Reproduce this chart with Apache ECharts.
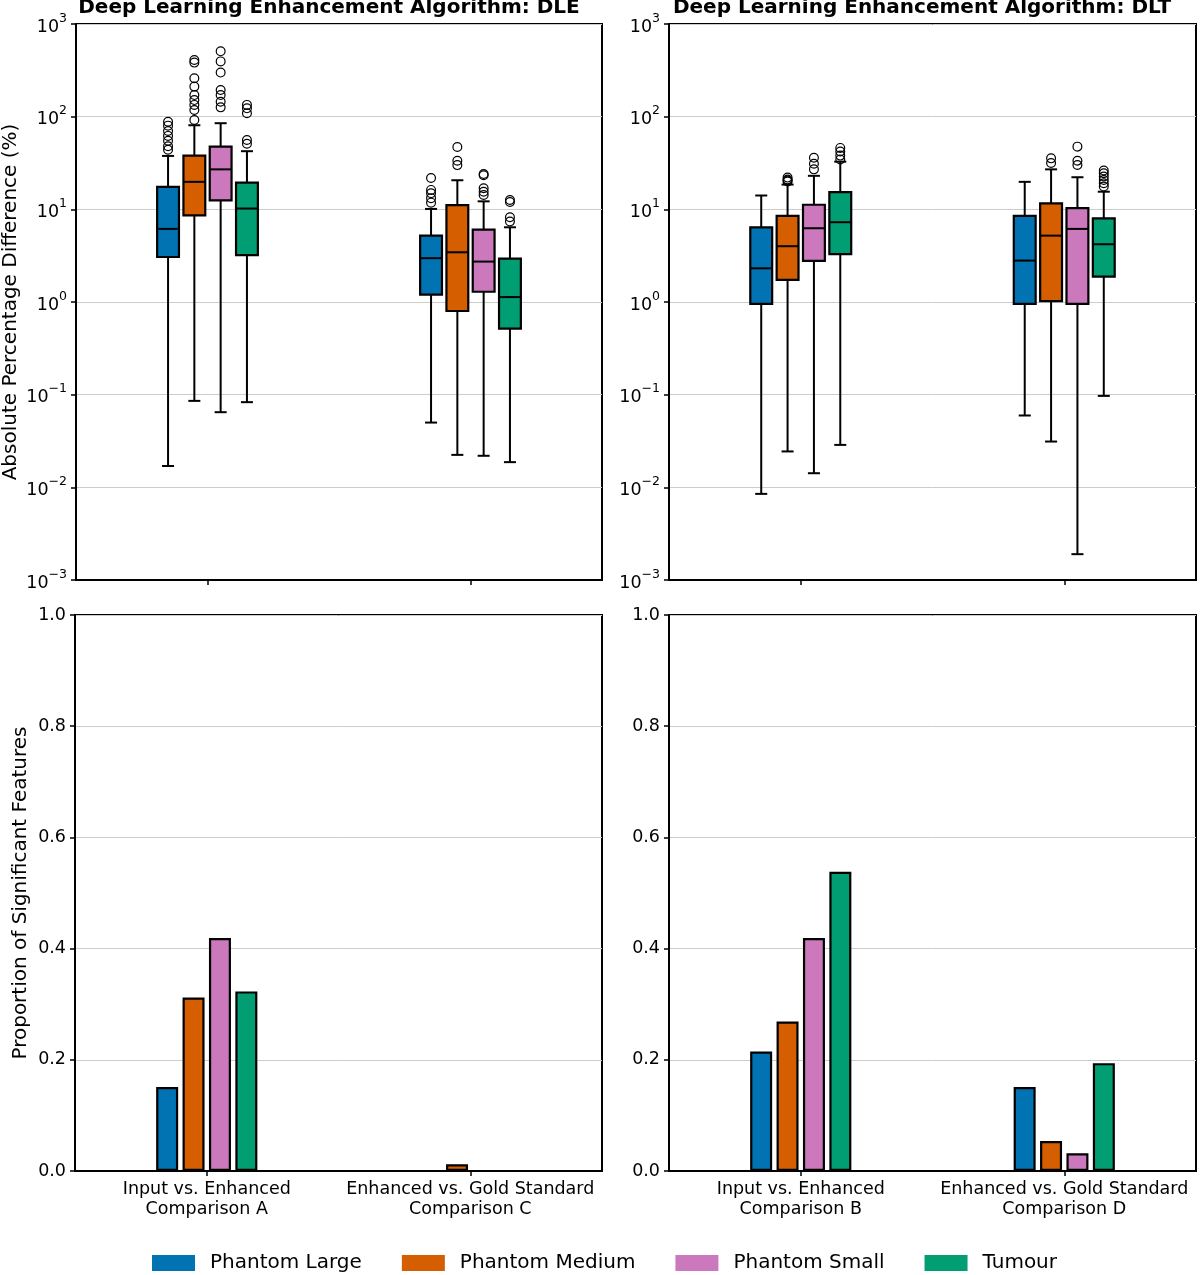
<!DOCTYPE html>
<html><head><meta charset="utf-8">
<script src="https://cdn.jsdelivr.net/npm/echarts@6/dist/echarts.min.js"></script>
<style>html,body{margin:0;padding:0;background:#fff}#c{width:1200px;height:1275px}</style>
</head><body><div id="c"></div>
<script>
// ---------------- DATA ----------------
const groupNames = ["Phantom Large", "Phantom Medium", "Phantom Small", "Tumour"];
const dleCategories = ["Input vs. Enhanced\nComparison A", "Enhanced vs. Gold Standard\nComparison C"];
const dltCategories = ["Input vs. Enhanced\nComparison B", "Enhanced vs. Gold Standard\nComparison D"];
const panelTitles = ["Deep Learning Enhancement Algorithm: DLE", "Deep Learning Enhancement Algorithm: DLT"];
const logTicks = [0.001, 0.01, 0.1, 1, 10, 100, 1000];

// box stats per group: [lower whisker, Q1, median, Q3, upper whisker]
const dleBoxA = [[0.017, 3.06, 6.15, 17.5, 37.7], [0.0857, 8.6, 19.8, 38, 80.8], [0.0647, 12.5, 27, 47.5, 85], [0.083, 3.2, 10.2, 19.4, 42.4]];
const dleBoxC = [[0.05, 1.2, 2.97, 5.2, 10.1], [0.0224, 0.80, 3.44, 11.1, 20.6], [0.0219, 1.29, 2.73, 6.04, 12.2], [0.0187, 0.516, 1.13, 2.94, 6.4]];
const dltBoxB = [[0.0085, 0.955, 2.31, 6.4, 14.1], [0.0244, 1.73, 4.0, 8.5, 18.5], [0.0142, 2.78, 6.25, 11.2, 23], [0.0287, 3.28, 7.26, 15.3, 32.7]];
const dltBoxD = [[0.0596, 0.955, 2.8, 8.5, 19.8], [0.0312, 1.02, 5.2, 11.6, 27], [0.0019, 0.955, 6.15, 10.3, 22.2], [0.097, 1.88, 4.2, 8.0, 15.5]];

// outliers per group
const dleOutA = [[88, 80, 70, 62, 55, 48, 44], [409, 383, 260, 211, 171, 151, 134, 118, 92], [507, 395, 299, 194, 171, 145, 126], [134, 123, 109, 56, 51]];
const dleOutC = [[21.8, 16.2, 14.9, 13.2, 11.8], [47, 33.5, 30], [24.1, 23.3, 16.9, 15.5, 14.3], [12.6, 12.0, 8.2, 7.4]];
const dltOutB = [[], [22, 21, 20.5, 20], [36, 31, 27], [46, 42, 38, 34.5]];
const dltOutD = [[], [35.5, 31.6], [47.5, 33.5, 30.1], [26.2, 24.5, 22.6, 20.7, 19.1, 17.6]];

// proportion of significant features per group: [first comparison, second comparison]
const dleProp = [[0.151, 0], [0.312, 0.012], [0.419, 0], [0.323, 0]];
const dltProp = [[0.215, 0.151], [0.269, 0.054], [0.419, 0.032], [0.538, 0.194]];
const propTicks = [0, 0.2, 0.4, 0.6, 0.8, 1.0];

// ---------------- STYLE ----------------
const colors = ["#0173b2", "#d55e00", "#cc78bc", "#029e73"];
const FONT = "DejaVu Sans";
const boxOffsets = [-0.15, -0.05, 0.05, 0.15]; // fraction of category band
const boxFrac = 0.083;

function supExp(v) {
  const e = Math.round(Math.log10(v));
  const s = e < 0 ? "\u2212" + (-e) : String(e);
  return "{b|10}{s|" + s + "}";
}

function boxRenderer(k) {
  return function (params, api) {
    const cat = api.value(0);
    const lo = api.value(1), q1 = api.value(2), med = api.value(3), q3 = api.value(4), hi = api.value(5);
    const band = Math.abs(api.coord([1, med])[0] - api.coord([0, med])[0]);
    const cx = api.coord([cat, med])[0] + boxOffsets[k] * band;
    const bw = band * boxFrac, cw = bw * 0.55;
    const yLo = api.coord([cat, lo])[1], yQ1 = api.coord([cat, q1])[1], yMed = api.coord([cat, med])[1];
    const yQ3 = api.coord([cat, q3])[1], yHi = api.coord([cat, hi])[1];
    const ls = { stroke: "#000", lineWidth: 2 };
    return {
      type: "group",
      children: [
        { type: "line", shape: { x1: cx, y1: yQ3, x2: cx, y2: yHi }, style: ls },
        { type: "line", shape: { x1: cx, y1: yQ1, x2: cx, y2: yLo }, style: ls },
        { type: "line", shape: { x1: cx - cw / 2, y1: yHi, x2: cx + cw / 2, y2: yHi }, style: ls },
        { type: "line", shape: { x1: cx - cw / 2, y1: yLo, x2: cx + cw / 2, y2: yLo }, style: ls },
        { type: "rect", shape: { x: cx - bw / 2, y: yQ3, width: bw, height: yQ1 - yQ3 }, style: { fill: colors[k], stroke: "#000", lineWidth: 2.2 } },
        { type: "line", shape: { x1: cx - bw / 2, y1: yMed, x2: cx + bw / 2, y2: yMed }, style: ls }
      ]
    };
  };
}
function outRenderer(k) {
  return function (params, api) {
    const cat = api.value(0), v = api.value(1);
    const band = Math.abs(api.coord([1, v])[0] - api.coord([0, v])[0]);
    const p = api.coord([cat, v]);
    return { type: "circle", shape: { cx: p[0] + boxOffsets[k] * band, cy: p[1], r: 4.4 }, style: { fill: "none", stroke: "#000", lineWidth: 1.2 } };
  };
}

const grids = [
  { left: 75, top: 24, width: 527, height: 556 },
  { left: 669, top: 24, width: 527, height: 556 },
  { left: 75, top: 615, width: 527, height: 556 },
  { left: 669, top: 615, width: 527, height: 556 }
].map(g => Object.assign(g, { show: true, borderColor: "#000", borderWidth: 2, backgroundColor: "transparent", containLabel: false }));

function xAxis(gi, cats, showLabel) {
  return {
    type: "category", gridIndex: gi, data: cats,
    axisLine: { show: true, lineStyle: { color: "#000", width: 2 } },
    axisTick: { show: true, alignWithLabel: true, length: 5, lineStyle: { color: "#000", width: 1.5 } },
    axisLabel: { show: showLabel, interval: 0, color: "#000", fontFamily: FONT, fontSize: 17.5, lineHeight: 20, margin: 8 },
    splitLine: { show: false }
  };
}
const tickLine = { show: true, length: 5, lineStyle: { color: "#000", width: 1.5 } };
const splitL = { show: true, lineStyle: { color: "#cccccc", width: 1 } };
function yLog(gi, name) {
  return {
    type: "log", logBase: 10, gridIndex: gi, min: logTicks[0], max: logTicks[logTicks.length - 1],
    name: name, nameLocation: "middle", nameGap: 55,
    nameTextStyle: { fontFamily: FONT, fontSize: 20, color: "#000" },
    axisLine: { show: true, lineStyle: { color: "#000", width: 2 } },
    axisTick: tickLine, splitLine: splitL,
    axisLabel: {
      formatter: supExp, margin: 9, color: "#000",
      rich: {
        b: { fontFamily: FONT, fontSize: 17.5, color: "#000", lineHeight: 24, verticalAlign: "bottom" },
        s: { fontFamily: FONT, fontSize: 12.5, color: "#000", lineHeight: 24, verticalAlign: "top" }
      }
    }
  };
}
function yLin(gi, name) {
  return {
    type: "value", gridIndex: gi, min: propTicks[0], max: propTicks[propTicks.length - 1], interval: 0.2,
    name: name, nameLocation: "middle", nameGap: 44,
    nameTextStyle: { fontFamily: FONT, fontSize: 20, color: "#000" },
    axisLine: { show: true, lineStyle: { color: "#000", width: 2 } },
    axisTick: tickLine, splitLine: splitL,
    axisLabel: { formatter: v => v.toFixed(1), margin: 9, color: "#000", fontFamily: FONT, fontSize: 17.5 }
  };
}

const series = [];
const panels = [
  { boxes: [dleBoxA, dleBoxC], outs: [dleOutA, dleOutC], prop: dleProp },
  { boxes: [dltBoxB, dltBoxD], outs: [dltOutB, dltOutD], prop: dltProp }
];
panels.forEach((P, p) => {
  groupNames.forEach((name, k) => {
    series.push({
      type: "custom", name: name, xAxisIndex: p, yAxisIndex: p,
      renderItem: boxRenderer(k), clip: false,
      encode: { x: 0, y: [1, 2, 3, 4, 5] },
      data: P.boxes.map((b, c) => [c].concat(b[k]))
    });
    const od = [];
    P.outs.forEach((o, c) => o[k].forEach(v => od.push([c, v])));
    series.push({
      type: "custom", name: name, xAxisIndex: p, yAxisIndex: p,
      renderItem: outRenderer(k), clip: false,
      encode: { x: 0, y: 1 }, data: od
    });
    series.push({
      type: "bar", name: name, xAxisIndex: p + 2, yAxisIndex: p + 2,
      barWidth: 22, barGap: "20%",
      itemStyle: { color: colors[k], borderColor: "#000", borderWidth: 2.2 },
      data: P.prop[k]
    });
  });
});

const option = {
  animation: false,
  backgroundColor: "#fff",
  textStyle: { fontFamily: FONT },
  title: [
    { text: panelTitles[0], left: 329, top: -2, textAlign: "center", padding: 0, textStyle: { fontFamily: FONT, fontWeight: "bold", fontSize: 20, color: "#000" } },
    { text: panelTitles[1], left: 922, top: -2, textAlign: "center", padding: 0, textStyle: { fontFamily: FONT, fontWeight: "bold", fontSize: 20, color: "#000" } }
  ],
  grid: grids,
  xAxis: [xAxis(0, dleCategories, false), xAxis(1, dltCategories, false), xAxis(2, dleCategories, true), xAxis(3, dltCategories, true)],
  yAxis: [yLog(0, "Absolute Percentage Difference (%)"), yLog(1, ""), yLin(2, "Proportion of Significant Features"), yLin(3, "")],
  legend: {
    left: 152, top: 1253, padding: 0, itemWidth: 43, itemHeight: 16, itemGap: 40, selectedMode: false,
    textStyle: { fontFamily: FONT, fontSize: 20, color: "#000", padding: [0, 0, 0, 10] },
    data: groupNames.map((n, k) => ({ name: n, icon: "rect", itemStyle: { color: colors[k], borderWidth: 0 } }))
  },
  series: series
};
const chart = echarts.init(document.getElementById("c"));
chart.setOption(option);
</script>
</body></html>
